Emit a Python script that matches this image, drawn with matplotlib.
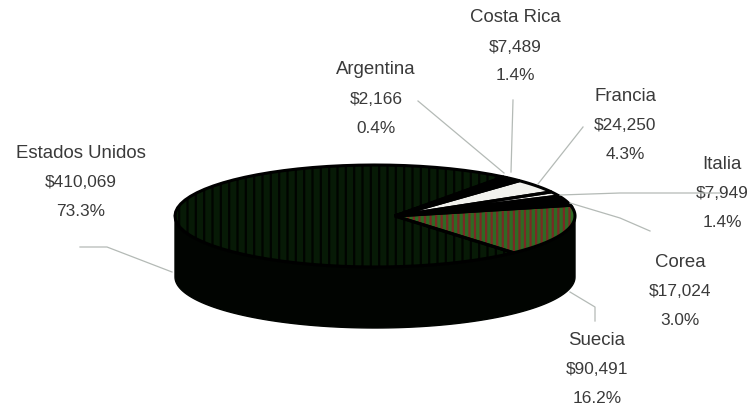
"""Recreate a 3D-style pie chart of amounts by country."""

import matplotlib
matplotlib.use("Agg")

import matplotlib.pyplot as plt
import numpy as np
from matplotlib.patches import Polygon

# ---------------------------------------------------------------------------
# Data
# ---------------------------------------------------------------------------
COUNTRIES = ["Argentina", "Costa Rica", "Francia", "Italia", "Corea", "Suecia", "Estados Unidos"]
AMOUNTS = [2166, 7489, 24250, 7949, 17024, 90491, 410069]
AMOUNT_LABELS = ["$2,166", "$7,489", "$24,250", "$7,949", "$17,024", "$90,491", "$410,069"]
PERCENT_LABELS = ["0.4%", "1.4%", "4.3%", "1.4%", "3.0%", "16.2%", "73.3%"]

# ---------------------------------------------------------------------------
# Layout and style (pixels of the 754x411 picture)
# ---------------------------------------------------------------------------
WIDTH, HEIGHT = 754, 411
CENTER_X, CENTER_Y = 375, 216
APEX_X, APEX_Y = 395, 216
RADIUS_X, RADIUS_Y = 200, 51
DEPTH = 61
START_ANGLE = 50

SLICE_STYLES = [
    ("#050805", None, None),
    ("#000000", None, None),
    ("#f2f2ee", None, None),
    ("#f2f2ee", None, None),
    ("#000000", None, None),
    ("#2f6a24", "|||", "#7a2a25"),
    ("#071a06", "||", "#010401"),
]

LABEL_CENTERS = [(376, 70), (515, 18), (625, 96), (722, 164), (680, 262), (597, 340), (81, 153)]
LEADERS = [
    [(418, 101), (504, 173)],
    [(513, 100), (511, 172)],
    [(583, 127), (538, 184)],
    [(720, 193), (620, 193), (560, 195)],
    [(650, 231), (620, 218), (570, 203)],
    [(595, 321), (595, 307), (570, 292)],
    [(80, 247), (107, 247), (172, 272)],
]
LEADER_COLOR = "#b4bab6"
TEXT_COLOR = "#3a3a3a"
LINE_STEP = 29

plt.rcParams["font.family"] = ["Liberation Sans", "DejaVu Sans"]
plt.rcParams["hatch.linewidth"] = 1.6


def ellipse_point(angle):
    """Map an angle in degrees to a pixel on the tilted top face."""
    radians = np.radians(angle)
    return CENTER_X + RADIUS_X * np.cos(radians), CENTER_Y - RADIUS_Y * np.sin(radians)


def draw_rim(axis):
    """Draw the dark side wall under the front half of the disc."""
    angles = np.linspace(180, 360, 120)
    upper = np.array([ellipse_point(angle) for angle in angles])
    lower = upper[::-1] + np.array([0, DEPTH])
    axis.add_patch(Polygon(np.vstack([upper, lower]), closed=True,
                           facecolor="#010401", edgecolor="#010401", zorder=1))


def draw_slices(axis):
    """Draw each slice of the top face, with sizes taken from the amounts."""
    total = sum(AMOUNTS)
    end = START_ANGLE
    for amount, (face, hatch, hatch_color) in zip(AMOUNTS, SLICE_STYLES):
        start = end - 360 * amount / total
        angles = np.linspace(start, end, 60)
        edge = [ellipse_point(angle) for angle in angles]
        points = [(APEX_X, APEX_Y)] + edge
        axis.add_patch(Polygon(points, closed=True, facecolor=face, edgecolor="none", zorder=2))
        if hatch:
            axis.add_patch(Polygon(points, closed=True, facecolor="none",
                                   edgecolor=hatch_color, hatch=hatch, linewidth=0, zorder=3))
        axis.add_patch(Polygon(points, closed=True, facecolor="none",
                               edgecolor="#000000", linewidth=2.2, zorder=4))
        end = start


def draw_labels(axis):
    """Write the three-line labels and their thin leader lines."""
    for index, country in enumerate(COUNTRIES):
        x, y = LABEL_CENTERS[index]
        lines = [country, AMOUNT_LABELS[index], PERCENT_LABELS[index]]
        sizes = [13.4, 12.4, 12.4]
        for row, line in enumerate(lines):
            axis.text(x, y + row * LINE_STEP, line, ha="center", va="center",
                      fontsize=sizes[row], color=TEXT_COLOR)
        xs = [point[0] for point in LEADERS[index]]
        ys = [point[1] for point in LEADERS[index]]
        axis.plot(xs, ys, color=LEADER_COLOR, linewidth=0.9, zorder=5)


def main():
    figure = plt.figure(figsize=(WIDTH / 100, HEIGHT / 100), dpi=100, facecolor="white")
    axis = figure.add_axes([0, 0, 1, 1])
    axis.set_xlim(0, WIDTH)
    axis.set_ylim(HEIGHT, 0)
    axis.axis("off")
    draw_rim(axis)
    draw_slices(axis)
    draw_labels(axis)
    figure.savefig("out.png", dpi=100, facecolor="white")
    plt.close(figure)


if __name__ == "__main__":
    main()
